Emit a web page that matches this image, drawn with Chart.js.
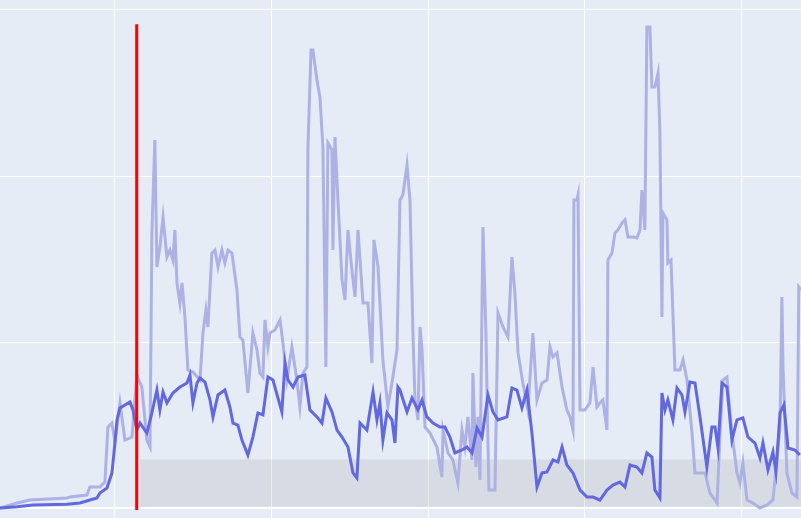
<!DOCTYPE html>
<html>
<head>
<meta charset="utf-8">
<script src="https://cdn.jsdelivr.net/npm/chart.js@4"></script>
<style>
html,body{margin:0;padding:0;background:#E5ECF6;}
#wrap{width:801px;height:518px;position:relative;}
</style>
</head>
<body>
<div id="wrap"><canvas id="c" width="801" height="518"></canvas></div>
<script>
// x ticks (grid positions) and y ticks
const xTicks = [0, 100, 200, 300, 400];
const yTicks = [0, 100, 200, 300];

// smoothed series
const darkX = [-73.4,-62.6,-52.4,-30.7,-22.4,-16.0,-11.5,-9.6,-5.1,-1.9,0,1.3,3.2,6.4,9.6,11.5,14.0,16.0,20.4,23.6,26.8,28.7,30.7,33.2,37.0,41.5,46.0,47.9,49.8,52.4,54.3,57.5,60.7,62.6,65.8,70.2,73.4,75.4,78.5,81.1,84.9,88.1,91.3,94.5,97.7,100.9,106.6,108.6,110.5,113.7,116.9,121.3,124.5,129.0,132.2,134.7,138.6,141.8,145.0,148.8,152.0,154.5,156.5,160.9,164.8,167.3,169.2,171.1,173.7,176.9,178.8,180.7,182.0,186.5,189.7,193.5,196.1,199.2,203.1,207.5,210.7,213.9,217.1,221.6,224.8,228.0,231.2,234.4,238.2,241.4,244.6,250.3,253.5,256.7,259.9,263.1,266.3,269.5,272.7,275.9,279.7,282.9,285.5,288.6,292.5,297.0,301.4,305.3,309.7,314.2,318.0,322.5,325.7,328.9,333.3,336.5,339.7,342.9,344.8,348.0,349.3,351.2,353.1,356.3,358.9,362.1,364.0,367.2,370.4,373.6,378.0,381.2,383.2,385.1,387.6,390.8,394.0,397.2,401.0,404.2,408.7,411.9,413.8,417.0,420.2,422.1,424.7,427.2,429.8,434.2,437.4];
const darkY = [0.3,1.1,2.1,2.5,3.3,5.1,6.3,9.3,12.3,21.4,39.4,53.3,60.5,62.3,64.1,59.3,47.2,51.4,45.4,57.5,71.3,59.3,70.1,63.5,69.5,73.1,75.5,80.3,63.5,75.5,78.5,76.1,65.3,55.1,68.3,71.3,61.1,51.4,50.2,41.2,32.2,43.0,57.5,56.3,79.1,77.3,58.1,87.5,77.3,73.1,79.1,80.3,59.3,55.1,51.4,66.5,58.1,47.2,43.0,37.0,21.4,18.4,51.4,47.2,70.1,53.3,63.5,41.2,57.5,53.3,39.4,73.1,71.3,58.1,66.5,59.3,65.3,55.1,51.4,49.0,49.0,43.0,33.4,35.2,37.0,33.4,48.4,43.0,68.3,58.1,53.3,55.1,72.5,71.3,60.5,71.3,45.4,12.9,21.4,22.0,29.2,28.0,37.0,26.2,21.4,11.1,6.9,6.9,5.1,11.1,14.1,15.9,12.9,26.2,25.0,21.4,33.4,31.0,11.1,6.3,69.5,59.3,65.3,53.3,72.5,68.3,58.1,76.1,75.5,55.1,25.0,49.0,49.0,36.4,75.5,73.1,41.2,53.3,54.5,43.0,39.4,30.4,39.4,23.2,34.0,22.0,57.5,62.3,36.4,35.2,32.2];

// raw series
const lightX = [-73.4,-62.6,-54.3,-30.7,-28.7,-17.9,-16.0,-9.6,-6.4,-4.5,-1.9,0,3.2,6.4,10.9,14.0,17.2,20.4,22.4,23.6,25.5,26.8,28.7,30.7,33.2,35.1,37.0,38.3,39.6,41.5,42.8,44.7,46.6,49.8,54.3,56.2,58.1,59.4,61.9,63.9,65.8,68.3,70.2,72.2,74.7,77.9,79.8,81.7,84.9,88.1,90.7,92.6,94.5,95.8,97.7,99.0,102.2,105.4,107.3,109.8,113.0,116.2,118.1,120.1,122.6,123.2,125.2,126.4,129.0,130.9,132.8,134.7,136.0,138.6,139.2,140.5,142.4,145.0,146.9,148.8,151.3,153.3,155.2,158.4,161.6,164.1,165.4,168.0,171.1,174.3,177.5,180.1,182.0,183.9,186.5,188.4,190.3,191.6,193.5,194.8,196.1,198.0,201.2,205.6,208.8,209.5,212.7,215.8,219.0,221.6,223.5,225.4,228.0,228.6,230.5,231.8,233.1,235.0,236.9,238.8,242.7,244.6,247.8,251.0,253.5,255.4,257.4,260.5,263.7,266.9,269.5,272.7,275.9,277.8,279.7,282.3,285.5,288.6,290.6,292.5,293.1,295.0,295.7,297.0,300.1,303.3,305.3,307.8,309.7,311.6,314.2,314.8,317.4,319.3,321.2,323.8,325.7,327.6,330.8,333.3,335.3,336.5,338.4,339.7,341.6,342.9,344.8,346.8,348.0,349.3,349.9,352.5,353.1,355.1,357.6,360.8,362.8,365.3,368.5,370.4,376.8,380.0,384.5,386.4,388.3,390.8,394.0,397.2,399.1,401.0,403.6,407.4,411.9,416.4,420.2,422.7,424.7,425.9,426.6,429.1,432.3,435.5,436.7,438.1];
const lightY = [0.3,3.3,5.1,6.3,6.9,8.1,12.9,12.9,15.9,49.0,51.4,40.0,63.5,41.2,43.0,80.3,73.1,41.2,37.0,165.8,221.7,145.3,157.3,175.4,151.3,155.5,149.5,167.6,135.7,123.6,135.7,115.2,83.3,82.1,77.3,105.6,119.4,109.2,153.7,155.5,145.3,155.5,147.7,155.5,153.7,131.5,103.2,101.4,69.5,105.6,95.4,81.5,79.1,113.4,97.2,105.6,107.4,113.4,99.6,77.3,97.2,77.3,61.1,81.5,85.1,215.7,275.9,275.9,257.8,247.6,217.5,85.1,219.9,215.7,155.5,223.5,185.6,137.5,125.5,167.6,143.5,127.3,167.6,123.6,123.6,87.5,161.6,145.3,89.4,61.1,79.1,95.4,185.6,188.6,206.7,185.6,105.6,65.3,53.3,109.2,95.4,49.0,45.4,37.0,19.0,47.2,33.4,29.2,15.3,47.2,37.0,55.1,29.2,81.5,25.0,55.1,17.1,169.4,105.6,11.1,11.1,117.6,109.2,103.2,151.3,129.7,93.6,75.5,59.3,105.6,65.3,75.5,77.3,97.2,91.2,93.6,73.1,59.3,55.1,47.2,185.6,185.6,188.6,59.3,59.3,63.5,85.1,61.1,63.5,65.3,47.2,149.5,153.7,165.8,167.6,171.8,173.6,163.4,163.4,162.8,167.6,191.6,167.6,289.7,289.7,253.6,253.6,262.0,225.9,115.2,177.8,173.6,147.7,149.5,83.3,83.3,89.4,77.3,45.4,21.4,21.4,9.3,3.3,45.4,77.3,79.1,45.4,21.4,15.3,27.4,5.1,3.3,0.3,2.1,5.1,29.2,49.0,127.3,85.1,21.4,9.3,6.9,133.3,131.5];

// marker line and shaded band
const markerX = 13.9;
const markerY = [291.3, -0.9];
const bandX = [15.9, 445];
const bandTop = 29.5;
const bandBottom = 1.1;

const pts = (xs, ys) => xs.map((x, i) => ({x, y: ys[i]}));

const bgPlugin = {
  id: 'bg',
  beforeDraw(chart) {
    const ctx = chart.ctx;
    ctx.save();
    ctx.fillStyle = '#E5ECF6';
    ctx.fillRect(0, 0, chart.width, chart.height);
    ctx.restore();
  }
};

new Chart(document.getElementById('c'), {
  type: 'line',
  data: {
    datasets: [
      {
        data: pts(bandX, [bandTop, bandTop]),
        borderWidth: 0,
        borderColor: 'rgba(0,0,0,0)',
        backgroundColor: 'rgba(128,128,128,0.15)',
        fill: {value: bandBottom},
        pointRadius: 0,
        order: 4
      },
      {
        data: pts(lightX, lightY),
        borderColor: 'rgb(174,177,228)',
        borderWidth: 3,
        pointRadius: 0,
        tension: 0,
        fill: false,
        order: 3
      },
      {
        data: pts(darkX, darkY),
        borderColor: '#6168e0',
        borderWidth: 3,
        pointRadius: 0,
        tension: 0,
        fill: false,
        order: 2
      },
      {
        data: pts([markerX, markerX], markerY),
        borderColor: '#ff0000',
        borderWidth: 3,
        pointRadius: 0,
        fill: false,
        order: 1
      }
    ]
  },
  options: {
    responsive: false,
    animation: false,
    layout: {padding: 0},
    plugins: {legend: {display: false}, tooltip: {enabled: false}},
    scales: {
      x: {
        type: 'linear',
        min: -73.4,
        max: 438.1,
        afterBuildTicks: s => { s.ticks = xTicks.map(v => ({value: v})); },
        ticks: {display: false},
        grid: {color: '#ffffff', lineWidth: 1, drawTicks: false},
        border: {display: false}
      },
      y: {
        type: 'linear',
        min: -5.72,
        max: 305.96,
        afterBuildTicks: s => { s.ticks = yTicks.map(v => ({value: v})); },
        ticks: {display: false},
        grid: {color: '#ffffff', lineWidth: c => (c.tick && c.tick.value === 0 ? 2 : 1), drawTicks: false},
        border: {display: false}
      }
    }
  },
  plugins: [bgPlugin]
});
</script>
</body>
</html>
